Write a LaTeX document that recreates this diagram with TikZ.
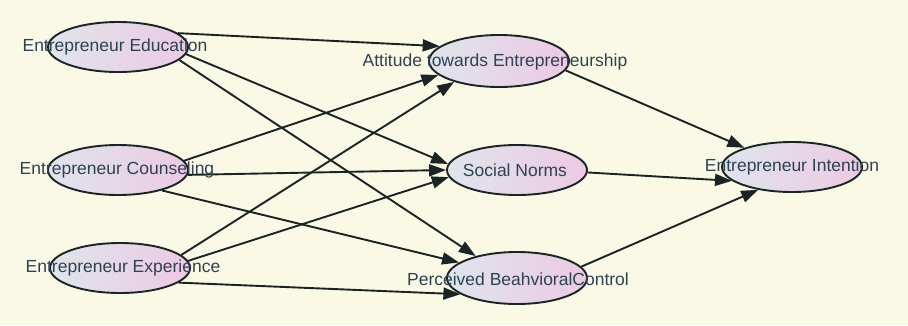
\documentclass[tikz,border=0pt]{standalone}
\usepackage{fontspec}
\setmainfont{Liberation Sans}
\usetikzlibrary{shapes.geometric,arrows.meta}
\definecolor{paper}{HTML}{F9F9E6}
\definecolor{inkline}{HTML}{1A2424}
\definecolor{labelink}{HTML}{2F4252}
\definecolor{fillL}{HTML}{DFE5EC}
\definecolor{fillR}{HTML}{EDC9E3}
\tikzset{
  construct/.style={ellipse, draw=inkline, line width=1.9pt,
    left color=fillL, right color=fillR,
    minimum width=140pt, minimum height=50pt, inner sep=0pt},
  constructlabel/.style={text=labelink, font=\fontsize{17.5}{20}\selectfont, inner sep=0pt},
  path/.style={draw=inkline, line width=1.9pt, -{Triangle[length=17pt,width=12pt]}}
}
\begin{document}
\begin{tikzpicture}[x=1pt,y=-1pt]
  \fill[paper] (0,0) rectangle (908,325);
  \useasboundingbox (0,0) rectangle (908,325);

  % exogenous constructs
  \node[construct] (edu) at (118,47) {};
  \node[construct] (cou) at (118,170) {};
  \node[construct] (exp) at (120,268) {};
  % mediators
  \node[construct, minimum height=52pt] (att) at (499,61) {};
  \node[construct] (sn)  at (517,170) {};
  \node[construct, minimum height=52pt] (pbc) at (517,278) {};
  % outcome
  \node[construct] (int) at (792,167) {};

  % structural paths
  \draw[path] (edu.13)  -- (att.166);
  \draw[path] (edu.-6)  -- (sn.175);
  \draw[path] (edu.-12) -- (pbc.152);

  \draw[path] (cou.8)   -- (att.193);
  \draw[path] (cou.-4)  -- (sn.180);
  \draw[path] (cou.-25) -- (pbc.165);

  \draw[path] (exp.12)  -- (att.205);
  \draw[path] (exp.6)   -- (sn.186);
  \draw[path] (exp.-14) -- (pbc.196);

  \draw[path] (att.-8)  -- (int.158);
  \draw[path] (sn.-2)   -- (int.193);
  \draw[path] (pbc.10)  -- (int.214);

  % construct names
  \node[constructlabel] at (115,47)  {Entrepreneur Education};
  \node[constructlabel] at (117,170) {Entrepreneur Counseling};
  \node[constructlabel] at (123,268) {Entrepreneur Experience};
  \node[constructlabel] at (495,62)  {Attitude towards Entrepreneurship};
  \node[constructlabel] at (515,170) {Social Norms};
  \node[constructlabel] at (518,279) {Perceived BeahvioralControl};
  \node[constructlabel] at (792,167) {Entrepreneur Intention};
\end{tikzpicture}
\end{document}
